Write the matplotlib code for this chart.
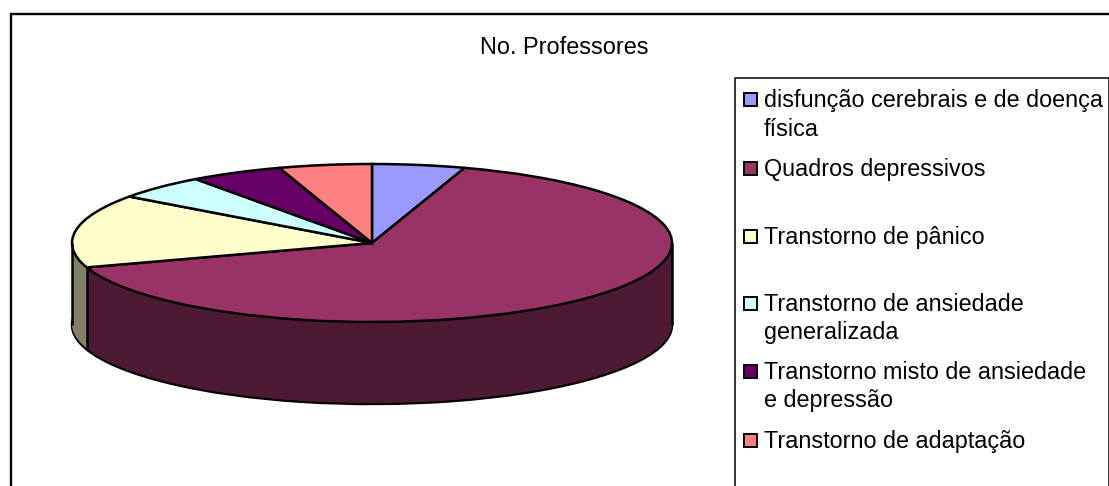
import numpy as np
import matplotlib
matplotlib.use("Agg")
import matplotlib.pyplot as plt
from matplotlib.patches import Rectangle

plt.rcParams['font.family'] = ['Liberation Sans', 'DejaVu Sans']

title = "No. Professores"
categories = [
    "disfunção cerebrais e de doença\nfísica",
    "Quadros depressivos",
    "Transtorno de pânico",
    "Transtorno de ansiedade\ngeneralizada",
    "Transtorno misto de ansiedade\ne depressão",
    "Transtorno de adaptação",
]
values = [1, 13, 3, 1, 1, 1]
colors = ["#9999FF", "#993366", "#FFFFCC", "#CCFFFF", "#660066", "#FF8080"]
wall_colors = ["#4D4D80", "#4D1933", "#808066", "#668080", "#330033", "#804040"]

W, H = 1109, 486
CX, CY, RX, RY, DEPTH = 372, 243, 300, 79, 82

fig = plt.figure(figsize=(W / 100, H / 100), dpi=100, facecolor="white")

# page layer in pixel units
page = fig.add_axes([0, 0, 1, 1])
page.set_xlim(0, W)
page.set_ylim(H, 0)
page.axis("off")
page.plot([11, 11, W], [H, 14.5, 14.5], color="black", lw=1.7, solid_joinstyle="miter")
page.plot([735, 735, W - 0.5, W - 0.5], [H, 78, 78, H], color="black", lw=1.1)
page.text(564, 47, title, ha="center", va="center", fontsize=16.9, color="black")

# pie layer: a unit pie squashed into the ellipse
ax = fig.add_axes([0, 0, 1, 1])
ax.patch.set_alpha(0)
d = DEPTH / RY
kw = dict(startangle=90, counterclock=False, radius=1)
ax.pie(values, colors=wall_colors, center=(0, -d),
       wedgeprops=dict(edgecolor="black", linewidth=1.8), **kw)
for off in np.arange(DEPTH - 1, 0, -1) / RY:
    ax.pie(values, colors=wall_colors, center=(0, -off),
           wedgeprops=dict(edgecolor="none", linewidth=0), **kw)
# vertical edges of the wall
angle = np.deg2rad(360 * sum(values[:2]) / sum(values))
ax.vlines([-1, 1, np.sin(angle)], [0, 0, np.cos(angle)],
          [-d, -d, np.cos(angle) - d], color="black", lw=1.8)
ax.pie(values, colors=colors, center=(0, 0),
       wedgeprops=dict(edgecolor="black", linewidth=1.8), **kw)
ax.set_aspect("auto")
ax.set_xlim(-CX / RX, (W - CX) / RX)
ax.set_ylim(-(H - CY) / RY, CY / RY)
ax.set_frame_on(False)

# legend layer
leg = fig.add_axes([0, 0, 1, 1])
leg.patch.set_alpha(0)
leg.set_xlim(0, W)
leg.set_ylim(H, 0)
leg.axis("off")
key_y = [100, 168, 236, 303, 371, 440]
for name, col, y in zip(categories, colors, key_y):
    leg.add_patch(Rectangle((744, y - 6.5), 13, 13, facecolor=col,
                            edgecolor="black", lw=1.4))
    leg.text(764, y - 10.5, name, ha="left", va="top", fontsize=16.8,
             color="black", linespacing=1.32)

fig.savefig("out.png", dpi=100)
